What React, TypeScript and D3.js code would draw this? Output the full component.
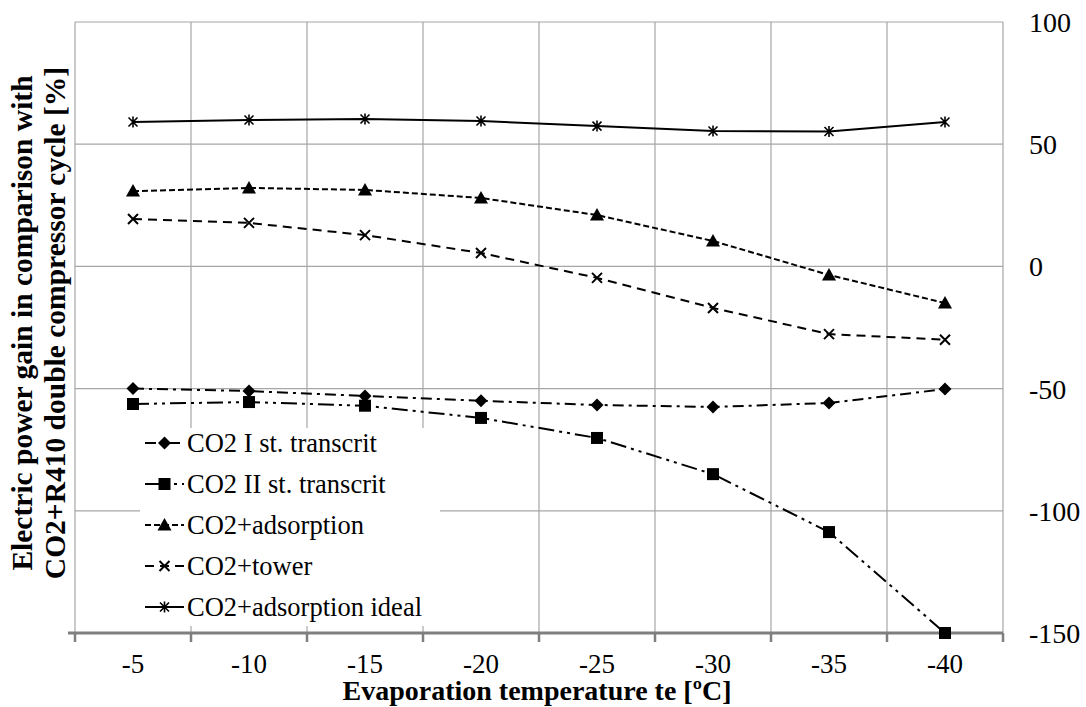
import * as d3 from "d3";

const categories = ["-5", "-10", "-15", "-20", "-25", "-30", "-35", "-40"];
const co2FirstStage = [-50, -51, -53, -55, -56.7, -57.5, -55.9, -50.2];
const co2SecondStage = [-56.3, -55.5, -57, -62, -70.2, -85, -108.7, -150];
const co2Adsorption = [30.8, 32.1, 31.3, 28.0, 21.0, 10.4, -3.5, -15];
const co2Tower = [19.4, 17.8, 12.8, 5.5, -4.7, -17, -27.7, -30];
const co2AdsorptionIdeal = [59.1, 59.9, 60.3, 59.5, 57.4, 55.4, 55.2, 59.1];
const yTicks = [100, 50, 0, -50, -100, -150];

type Marker = "diamond" | "square" | "triangle" | "cross" | "star";

const series: { name: string; values: number[]; dash: string; marker: Marker }[] = [
  { name: "CO2 I st. transcrit", values: co2FirstStage, dash: "11 5 3 5", marker: "diamond" },
  { name: "CO2 II st. transcrit", values: co2SecondStage, dash: "16 5 3 5 3 5", marker: "square" },
  { name: "CO2+adsorption", values: co2Adsorption, dash: "6 3", marker: "triangle" },
  { name: "CO2+tower", values: co2Tower, dash: "9 6", marker: "cross" },
  { name: "CO2+adsorption ideal", values: co2AdsorptionIdeal, dash: "", marker: "star" },
];

const W = 1086;
const H = 707;
const plot = { left: 75, right: 1003, top: 22, bottom: 633 };

function MarkerShape({ type, x, y }: { type: Marker; x: number; y: number }) {
  switch (type) {
    case "diamond":
      return <path d={`M${x},${y - 6.5}L${x + 6.5},${y}L${x},${y + 6.5}L${x - 6.5},${y}Z`} fill="#000" />;
    case "square":
      return <rect x={x - 6} y={y - 6} width={12} height={12} fill="#000" />;
    case "triangle":
      return <path d={`M${x},${y - 7}L${x + 7},${y + 5.5}L${x - 7},${y + 5.5}Z`} fill="#000" />;
    case "cross":
      return (
        <path
          d={`M${x - 5},${y - 5}L${x + 5},${y + 5}M${x + 5},${y - 5}L${x - 5},${y + 5}`}
          stroke="#000"
          strokeWidth={2}
        />
      );
    case "star":
      return (
        <path
          d={`M${x - 4.5},${y - 4.5}L${x + 4.5},${y + 4.5}M${x + 4.5},${y - 4.5}L${x - 4.5},${y + 4.5}M${x},${y - 5.5}L${x},${y + 5.5}`}
          stroke="#000"
          strokeWidth={1.6}
        />
      );
  }
}

export default function App() {
  const xBand = d3
    .scaleBand<string>()
    .domain(categories)
    .range([plot.left, plot.right]);
  const x = (c: string) => (xBand(c) ?? 0) + xBand.bandwidth() / 2;
  const y = d3.scaleLinear().domain([-150, 100]).range([plot.bottom, plot.top]);

  const line = d3
    .line<number>()
    .x((_d, i) => x(categories[i]))
    .y((d) => y(d));

  const gridX = categories.map((c) => xBand(c) ?? 0).concat([plot.right]);

  const legendX = 145;
  const legendY0 = 443;
  const legendStep = 41;

  return (
    <svg width={W} height={H} style={{ position: "absolute", left: 0, top: 0, background: "#fff" }}>
      <style>{`text { font-family: "Liberation Serif", "Tinos", "Nimbus Roman", serif; fill: #000; }`}</style>
      <rect width={W} height={H} fill="#fff" />
      {/* horizontal grid */}
      {yTicks.map((t) => (
        <line key={`h${t}`} x1={plot.left} x2={plot.right} y1={y(t)} y2={y(t)} stroke="#a6a6a6" strokeWidth={1.2} />
      ))}
      {/* vertical grid */}
      {gridX.map((gx, i) => (
        <line key={`v${i}`} x1={gx} x2={gx} y1={plot.top} y2={plot.bottom} stroke="#a6a6a6" strokeWidth={1.2} />
      ))}
      {/* bottom axis */}
      <line x1={plot.left - 7} x2={plot.right} y1={plot.bottom} y2={plot.bottom} stroke="#7f7f7f" strokeWidth={3} />
      {gridX.map((gx, i) => (
        <line key={`t${i}`} x1={gx} x2={gx} y1={plot.bottom} y2={plot.bottom + 9} stroke="#7f7f7f" strokeWidth={2.5} />
      ))}
      {/* y tick labels (right) */}
      {yTicks.map((t) => (
        <text key={`yl${t}`} x={1029} y={y(t) + 10} fontSize={28}>
          {t}
        </text>
      ))}
      {/* x tick labels */}
      {categories.map((c) => (
        <text key={`xl${c}`} x={x(c)} y={673} textAnchor="middle" fontSize={27}>
          {c}
        </text>
      ))}
      {/* axis titles */}
      <text x={537} y={700} textAnchor="middle" fontSize={28} fontWeight="bold">
        Evaporation temperature te [ºC]
      </text>
      <g transform="translate(32,323) rotate(-90)">
        <text x={0} y={0} textAnchor="middle" fontSize={29.5} fontWeight="bold">
          Electric power gain in comparison with
        </text>
        <text x={0} y={33} textAnchor="middle" fontSize={29.5} fontWeight="bold">
          CO2+R410 double compressor cycle [%]
        </text>
      </g>
      {/* series */}
      {series.map((s) => (
        <g key={s.name}>
          <path
            d={line(s.values) ?? ""}
            fill="none"
            stroke="#000"
            strokeWidth={2}
            strokeDasharray={s.dash || undefined}
          />
          {s.values.map((v, i) => (
            <MarkerShape key={i} type={s.marker} x={x(categories[i])} y={y(v)} />
          ))}
        </g>
      ))}
      {/* legend */}
      <rect x={140} y={428} width={300} height={198} fill="#fff" />
      {series.map((s, i) => {
        const ly = legendY0 + i * legendStep;
        return (
          <g key={`lg${s.name}`}>
            <line
              x1={legendX}
              x2={legendX + 39}
              y1={ly}
              y2={ly}
              stroke="#000"
              strokeWidth={2}
              strokeDasharray={s.dash || undefined}
            />
            <MarkerShape type={s.marker} x={legendX + 19.5} y={ly} />
            <text x={legendX + 42} y={ly + 9} fontSize={26.5}>
              {s.name}
            </text>
          </g>
        );
      })}
    </svg>
  );
}
